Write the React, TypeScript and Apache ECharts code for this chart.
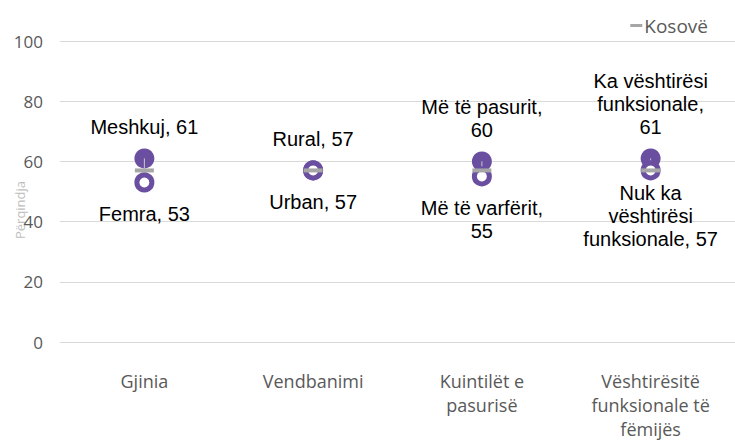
import React, { useEffect, useRef } from "react";
import * as echarts from "echarts";

const categories = [
  "Gjinia",
  "Vendbanimi",
  "Kuintilët e\npasurisë",
  "Vështirësitë\nfunksionale të\nfëmijës",
];
const highNames = ["Meshkuj, ", "Rural, ", "Më të pasurit,\n", "Ka vështirësi\nfunksionale,\n"];
const highValues = [61, 57, 60, 61];
const lowNames = ["Femra, ", "Urban, ", "Më të varfërit,\n", "Nuk ka\nvështirësi\nfunksionale, "];
const lowValues = [53, 57, 55, 57];
const kosovoValues = [57, 57, 57, 57];
const yTicks = [0, 20, 40, 60, 80, 100];

const PURPLE = "#6a4fa1";
const FONT = "Open Sans";
const LABEL_FONT = "Liberation Sans";

export default function App() {
  const ref = useRef<HTMLDivElement>(null);
  useEffect(() => {
    document.body.style.margin = "0";
    if (!ref.current) return;
    const chart = echarts.init(ref.current, undefined, { renderer: "svg" });
    const labelStyle = {
      color: "#000000",
      fontSize: 20,
      fontFamily: LABEL_FONT,
      lineHeight: 23,
      align: "center" as const,
    };
    chart.setOption({
      animation: false,
      backgroundColor: "#ffffff",
      grid: { left: 60, right: -9, top: 41, bottom: 94, containLabel: false },
      legend: {
        data: [{ name: "Kosovë", icon: "rect" }],
        right: 22,
        top: 11,
        itemWidth: 12,
        itemHeight: 3,
        itemGap: 2,
        textStyle: { color: "#595959", fontSize: 19, fontFamily: FONT, padding: [0, 0, 0, -3] },
        selectedMode: false,
      },
      graphic: [
        {
          type: "text",
          x: 20,
          y: 210,
          rotation: Math.PI / 2,
          style: {
            text: "Përqindja",
            fill: "#bfbfbf",
            fontSize: 13,
            fontFamily: FONT,
            align: "center",
            verticalAlign: "middle",
          },
        },
      ],
      xAxis: {
        type: "category",
        data: categories,
        axisLine: { show: false },
        axisTick: { show: false },
        axisLabel: {
          color: "#595959",
          fontSize: 18,
          fontFamily: FONT,
          lineHeight: 24,
          margin: 27,
          interval: 0,
        },
      },
      yAxis: {
        type: "value",
        min: yTicks[0],
        max: yTicks[yTicks.length - 1],
        interval: 20,
        axisLine: { show: false },
        axisTick: { show: false },
        axisLabel: { color: "#595959", fontSize: 17, fontFamily: FONT, margin: 17 },
        splitLine: { lineStyle: { color: "#d9d9d9", width: 1 } },
      },
      series: [
        {
          name: "high",
          type: "scatter",
          symbol: "circle",
          symbolSize: 20,
          itemStyle: { color: PURPLE, opacity: 1 },
          data: highValues.map((v, i) => ({ value: v, label: { formatter: highNames[i] + v } })),
          label: { show: true, position: "top", distance: 10, ...labelStyle },
          z: 2,
        },
        {
          name: "connector",
          type: "custom",
          data: categories.map((_, i) => [i, highValues[i], kosovoValues[i]]),
          encode: { x: 0, y: [1, 2] },
          renderItem: (params: any, api: any) => {
            const p1 = api.coord([api.value(0), api.value(1)]);
            const p2 = api.coord([api.value(0), api.value(2)]);
            return {
              type: "line",
              shape: { x1: p1[0], y1: p1[1], x2: p2[0], y2: p2[1] },
              style: { stroke: "#c8c8c8", lineWidth: 1 },
            };
          },
          z: 3,
        },
        {
          name: "low",
          type: "scatter",
          symbol: "circle",
          symbolSize: 15,
          itemStyle: { color: "#ffffff", borderColor: PURPLE, borderWidth: 5, opacity: 1 },
          data: lowValues.map((v, i) => ({
            value: v,
            label: { formatter: lowNames[i] + v, distance: i === 3 ? 1 : 10 },
          })),
          label: { show: true, position: "bottom", distance: 10, ...labelStyle },
          z: 4,
        },
        {
          name: "Kosovë",
          type: "scatter",
          symbol: "rect",
          symbolSize: [19, 4],
          itemStyle: { color: "#a6a6a6", opacity: 1 },
          data: kosovoValues,
          z: 5,
        },
      ],
    });
    return () => chart.dispose();
  }, []);
  return <div ref={ref} style={{ width: 735, height: 441 }} />;
}
